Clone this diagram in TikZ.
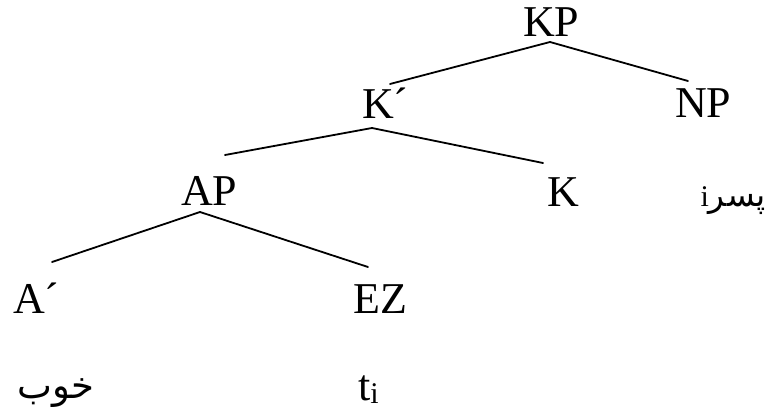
\documentclass[tikz,border=0pt]{standalone}
\usepackage{fontspec}
\setmainfont{Liberation Serif}
\newfontfamily\arabicfont[Script=Arabic]{DejaVu Sans}
\TeXXeTstate=1
\begin{document}
\begin{tikzpicture}[x=1pt,y=-1pt,
  lab/.style={inner sep=0pt, anchor=base west, font=\fontsize{44}{44}\selectfont},
  arab/.style={inner sep=0pt, font=\fontsize{37}{37}\selectfont\arabicfont},
  branch/.style={line width=1.8pt, line cap=round}]
\useasboundingbox (0,0) rectangle (768,414);
% labels
\node[lab] (KP) at (523,37) {KP};
\node[lab] (Kbar) at (362,119) {K´};
\node[lab] (NP) at (675,118) {NP};
\node[lab] (AP) at (181,206) {AP};
\node[lab] (K) at (547,207) {K};
\node[lab] (Abar) at (13,313) {A´};
\node[lab] (EZ) at (353,313) {EZ};
\node[arab, anchor=base east, font=\fontsize{33}{33}\selectfont\arabicfont] (pesar) at (766,207) {{\rmfamily\fontsize{30}{30}\selectfont i}\beginR پسر\endR};
\node[arab, anchor=base west] (khub) at (17,398) {\beginR خوب\endR};
\node[lab] (ti) at (358,400) {t\raisebox{-3pt}{\fontsize{30}{30}\selectfont i}};
% branch ends
\coordinate (KP-d) at (550,42);
\coordinate (Kbar-u) at (390,84);
\coordinate (NP-u) at (688,81);
\coordinate (Kbar-d) at (372,128);
\coordinate (AP-u) at (225,155);
\coordinate (K-u) at (543,163);
\coordinate (AP-d) at (200,212);
\coordinate (Abar-u) at (52,262);
\coordinate (EZ-u) at (368,267);
% branches
\draw[branch] (KP-d) -- (Kbar-u);
\draw[branch] (KP-d) -- (NP-u);
\draw[branch] (Kbar-d) -- (AP-u);
\draw[branch] (Kbar-d) -- (K-u);
\draw[branch] (AP-d) -- (Abar-u);
\draw[branch] (AP-d) -- (EZ-u);
\end{tikzpicture}
\end{document}
